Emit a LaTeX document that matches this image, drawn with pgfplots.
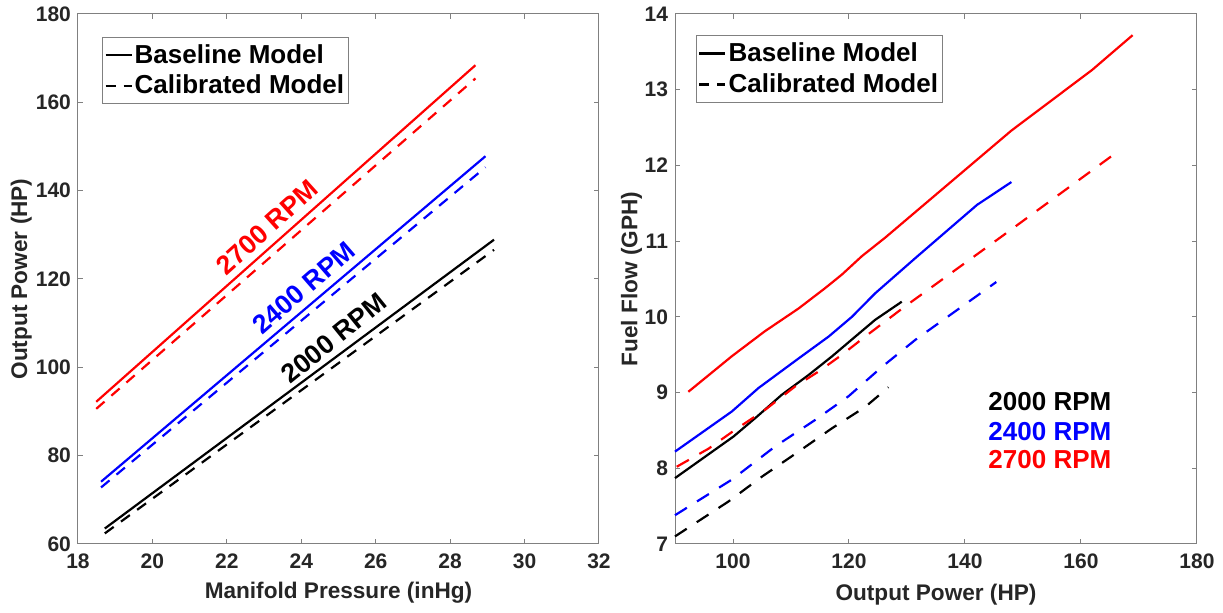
\documentclass[border=0pt]{standalone}
\usepackage{pgfplots}
\pgfplotsset{compat=1.18}
\usepackage{fontspec}
\setmainfont{Liberation Sans}
\definecolor{tickgray}{HTML}{262626}
\definecolor{framegray}{HTML}{808080}
\definecolor{mred}{RGB}{255,0,0}
\definecolor{mblue}{RGB}{0,0,255}

\pgfplotsset{
  mystyle/.style={
    scale only axis,
    axis line style={framegray, line width=0.5pt},
    tick style={framegray, line width=0.5pt},
    major tick length=2.6pt,
    tick align=inside,
    xtick pos=both, ytick pos=both,
    /pgf/number format/assume math mode=true,
    tick label style={font=\bfseries\fontsize{10.5}{12}\selectfont, text=tickgray},
    xticklabel style={yshift=-1.5pt},
    label style={font=\bfseries\fontsize{11.3}{13}\selectfont, text=tickgray},
    legend style={draw=framegray, line width=0.5pt, font=\bfseries\fontsize{13}{15}\selectfont,
      inner xsep=1pt, inner ysep=2pt, row sep=1.5pt, cells={anchor=west}, anchor=north west,
      nodes={inner xsep=1pt, inner ysep=1.5pt}},
    legend cell align=left,
    legend image code/.code={\draw[#1, line width=1.1pt] (0pt,0pt) -- (13pt,0pt);},
    every axis plot/.append style={line width=1.1pt},
    clip=false,
  },
}

\begin{document}
\begin{tikzpicture}
\useasboundingbox (0,0) rectangle (611.5pt,306.5pt);
% ---------------- Left panel ----------------
\begin{axis}[mystyle,
  at={(39pt,34.5pt)}, anchor=south west,
  width=260.5pt, height=265pt,
  xmin=18, xmax=32, ymin=60, ymax=180,
  xtick={18,20,...,32}, ytick={60,80,...,180},
  xlabel={Manifold Pressure (inHg)}, ylabel={Output Power (HP)},
  xlabel style={at={(axis description cs:0.5,-0.092)}, anchor=center},
  ylabel style={at={(axis description cs:-0.109,0.5)}, anchor=center, rotate=0},
  legend style={at={(axis description cs:0.046,0.957)}},
  dsh/.style={dash pattern=on 5.5pt off 4.5pt},
]
\addplot[black, forget plot] coordinates {(18.72,63.5) (23.95,96.2) (29.18,128.9)};
\addplot[black, dsh, forget plot] coordinates {(18.72,62.4) (23.95,94.5) (29.18,126.6)};
\addplot[mblue, forget plot] coordinates {(18.62,74.1) (23.785,110.95) (28.95,147.8)};
\addplot[mblue, dsh, forget plot] coordinates {(18.62,72.8) (23.785,109.05) (28.95,145.3)};
\addplot[mred, forget plot] coordinates {(18.49,92.2) (23.585,130.3) (28.68,168.4)};
\addplot[mred, dsh, forget plot] coordinates {(18.49,90.6) (23.585,128.0) (28.68,165.4)};
\addlegendimage{black, solid}
\addlegendentry{Baseline Model}
\addlegendimage{black, dash pattern=on 5pt off 4pt}
\addlegendentry{Calibrated Model}
\node[rotate=42, inner sep=0pt, text=mred, font=\bfseries\fontsize{13.3}{16}\selectfont] at (axis cs:23.08,131.7) {2700 RPM};
\node[rotate=41, inner sep=0pt, text=mblue, font=\bfseries\fontsize{13.3}{16}\selectfont] at (axis cs:24.07,118.0) {2400 RPM};
\node[rotate=39, inner sep=0pt, text=black, font=\bfseries\fontsize{13.3}{16}\selectfont] at (axis cs:24.87,106.6) {2000 RPM};
\end{axis}
% ---------------- Right panel ----------------
\begin{axis}[mystyle,
  at={(337.5pt,34.5pt)}, anchor=south west,
  width=261pt, height=265pt,
  xmin=90, xmax=180, ymin=7, ymax=14,
  xtick={100,120,...,180}, ytick={7,8,...,14},
  xlabel={Output Power (HP)}, ylabel={Fuel Flow (GPH)},
  xlabel style={at={(axis description cs:0.5,-0.096)}, anchor=center},
  ylabel style={at={(axis description cs:-0.0835,0.5)}, anchor=center, rotate=0},
  legend style={at={(axis description cs:0.040,0.96)}},
  dsh/.style={dash pattern=on 7pt off 6pt},
]
\addplot[black, forget plot] coordinates {(90,7.87) (100.1,8.42) (104.1,8.68) (108.4,8.97) (113.0,9.23) (117.1,9.48) (121.1,9.74) (124.5,9.96) (129.1,10.20)};
\addplot[black, dsh, forget plot] coordinates {(90,7.10) (99.2,7.56) (105,7.89) (111.3,8.22) (117.1,8.53) (122.8,8.81) (126.8,9.07)};
\addplot[mblue, forget plot] coordinates {(90,8.22) (99.8,8.75) (104.4,9.06) (111.3,9.45) (116.5,9.74) (120.5,10.0) (124.5,10.31) (131.5,10.78) (137.4,11.17) (142.1,11.48) (148,11.78)};
\addplot[mblue, dsh, forget plot] coordinates {(90,7.38) (99.8,7.85) (107.3,8.29) (114.2,8.64) (119.9,8.95) (125.7,9.34) (131.5,9.70) (145.4,10.46)};
\addplot[mred, forget plot] coordinates {(92.3,9.01) (99.8,9.48) (105.5,9.81) (111.3,10.11) (115.9,10.38) (118.8,10.56) (122.2,10.80) (126.3,11.05) (148,12.46) (161.9,13.26) (168.9,13.72)};
\addplot[mred, dsh, forget plot] coordinates {(90.3,8.02) (95.8,8.26) (100.4,8.51) (105.5,8.77) (110.7,9.08) (114.8,9.28) (118.8,9.50) (122.8,9.74) (129.7,10.14) (146.3,11.06) (165.4,12.13)};
\addlegendimage{black, solid}
\addlegendentry{Baseline Model}
\addlegendimage{black, dash pattern=on 5pt off 4pt}
\addlegendentry{Calibrated Model}
\node[anchor=east, inner sep=0pt, text=black, font=\bfseries\fontsize{13}{16}\selectfont] at (axis cs:165.3,8.88) {2000 RPM};
\node[anchor=east, inner sep=0pt, text=mblue, font=\bfseries\fontsize{13}{16}\selectfont] at (axis cs:165.3,8.49) {2400 RPM};
\node[anchor=east, inner sep=0pt, text=mred, font=\bfseries\fontsize{13}{16}\selectfont] at (axis cs:165.3,8.11) {2700 RPM};
\end{axis}
\end{tikzpicture}
\end{document}
